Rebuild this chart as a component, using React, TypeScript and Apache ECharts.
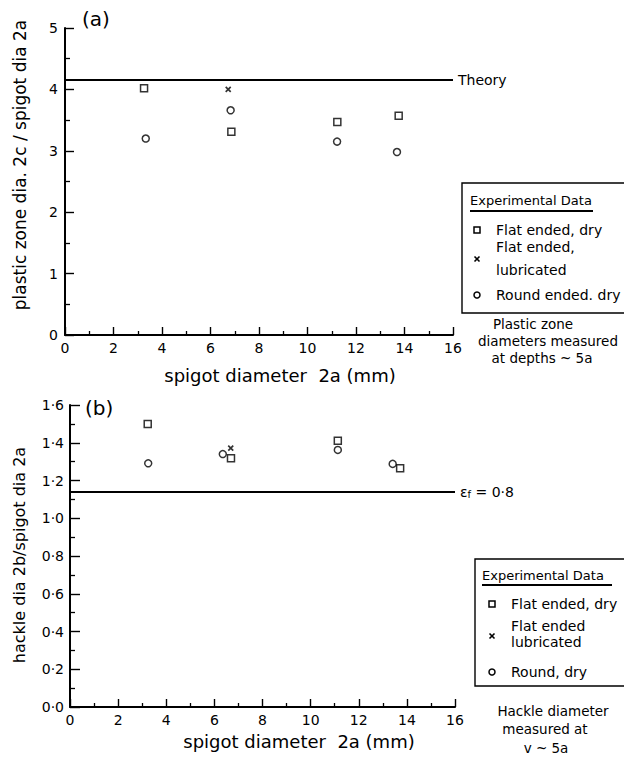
import React, { useEffect, useRef } from "react";
import * as echarts from "echarts";

// ---- Panel (a) data ----
const aFlatDryX = [3.26, 6.86, 11.23, 13.76];
const aFlatDryY = [4.02, 3.31, 3.47, 3.57];
const aFlatLubX = [6.73];
const aFlatLubY = [4.0];
const aRoundDryX = [3.33, 6.83, 11.22, 13.69];
const aRoundDryY = [3.2, 3.66, 3.15, 2.98];
const theoryValue = 4.15;

// ---- Panel (b) data ----
const bFlatDryX = [3.23, 6.69, 11.13, 13.72];
const bFlatDryY = [1.5, 1.318, 1.41, 1.265];
const bFlatLubX = [6.68];
const bFlatLubY = [1.371];
const bRoundDryX = [3.25, 6.35, 11.13, 13.41];
const bRoundDryY = [1.291, 1.34, 1.362, 1.288];
const strainLineValue = 1.144;

const FONT = "DejaVu Sans";
const CROSS = "path://M0,0L10,10M10,0L0,10";

const zip = (xs: number[], ys: number[]) => xs.map((x, i) => [x, ys[i]]);

export default function App() {
  const ref = useRef<HTMLDivElement>(null);
  useEffect(() => {
    if (!ref.current) return;
    const chart = echarts.init(ref.current, null, { renderer: "svg" });

    const axisCommon = {
      axisLine: { show: true, lineStyle: { color: "#000", width: 2 } },
      splitLine: { show: false },
      axisLabel: { color: "#000", fontFamily: FONT, fontSize: 14 },
    };
    const xAxisCfg = (gridIndex: number) => ({
      ...axisCommon,
      type: "value",
      gridIndex,
      min: 0,
      max: 16,
      interval: 2,
      axisTick: { show: true, inside: true, length: 8, lineStyle: { color: "#000", width: 1.4 } },
      minorTick: { show: true, splitNumber: 2, length: 4, lineStyle: { color: "#000", width: 1.3 } },
      axisLabel: { ...axisCommon.axisLabel, margin: 6, showMaxLabel: true },
    });

    const squareStyle = { color: "#fff", borderColor: "#000", borderWidth: 1.5 };
    const circleStyle = { color: "#fff", borderColor: "#000", borderWidth: 1.5 };
    const crossStyle = { color: "none", borderColor: "#000", borderWidth: 1.7 };

    const scatter = (idx: number, data: number[][], symbol: string, size: number, style: any) => ({
      type: "scatter",
      xAxisIndex: idx,
      yAxisIndex: idx,
      symbol,
      symbolSize: size,
      itemStyle: style,
      data,
      z: 3,
    });

    const hLine = (idx: number, value: number, label: any) => ({
      type: "line",
      xAxisIndex: idx,
      yAxisIndex: idx,
      data: [],
      markLine: {
        silent: true,
        symbol: "none",
        lineStyle: { color: "#000", width: 2.2, type: "solid" },
        label: { show: true, position: "end", distance: 5, color: "#000", fontFamily: FONT, fontSize: 14, ...label },
        data: [{ yAxis: value }],
      },
    });

    const txt = (text: string, x: number, y: number, extra: any = {}) => ({
      type: "text",
      x,
      y,
      style: {
        text,
        fill: "#000",
        fontFamily: FONT,
        fontSize: 14,
        align: "left",
        verticalAlign: "middle",
        ...extra,
      },
    });

    const legendGraphic = (
      bx: number, by: number, bw: number, bh: number,
      titleX: number, titleY: number, ulY: number, ulW: number,
      symX: number, textX: number,
      rows: { sym: string; symY: number; lines: { t: string; y: number }[] }[]
    ) => {
      const els: any[] = [
        { type: "rect", shape: { x: bx, y: by, width: bw, height: bh }, style: { fill: "none", stroke: "#000", lineWidth: 1.4 } },
        txt("Experimental Data", titleX, titleY, { fontSize: 13 }),
        { type: "line", shape: { x1: titleX, y1: ulY, x2: titleX + ulW, y2: ulY }, style: { stroke: "#000", lineWidth: 1.8 } },
      ];
      rows.forEach((r) => {
        if (r.sym === "square") {
          els.push({ type: "rect", shape: { x: symX - 3, y: r.symY - 3, width: 6, height: 6 }, style: { fill: "#fff", stroke: "#000", lineWidth: 1.5 } });
        } else if (r.sym === "circle") {
          els.push({ type: "circle", shape: { cx: symX, cy: r.symY, r: 3 }, style: { fill: "#fff", stroke: "#000", lineWidth: 1.5 } });
        } else {
          els.push({ type: "line", shape: { x1: symX - 2.5, y1: r.symY - 2.5, x2: symX + 2.5, y2: r.symY + 2.5 }, style: { stroke: "#000", lineWidth: 1.6 } });
          els.push({ type: "line", shape: { x1: symX + 2.5, y1: r.symY - 2.5, x2: symX - 2.5, y2: r.symY + 2.5 }, style: { stroke: "#000", lineWidth: 1.6 } });
        }
        r.lines.forEach((l) => els.push(txt(l.t, textX, l.y, { fontSize: 14 })));
      });
      return els;
    };

    const option: any = {
      animation: false,
      backgroundColor: "#fff",
      grid: [
        { left: 65, top: 28, width: 388, height: 307 },
        { left: 70, top: 405, width: 385, height: 302 },
      ],
      xAxis: [xAxisCfg(0), xAxisCfg(1)],
      yAxis: [
        {
          ...axisCommon,
          type: "value",
          gridIndex: 0,
          min: 0,
          max: 5,
          interval: 1,
          axisTick: { show: true, inside: true, length: 9, lineStyle: { color: "#000", width: 1.4 } },
          minorTick: { show: true, splitNumber: 2, length: 5, lineStyle: { color: "#000", width: 1.3 } },
          axisLabel: { ...axisCommon.axisLabel, margin: 7 },
        },
        {
          ...axisCommon,
          type: "value",
          gridIndex: 1,
          min: 0,
          max: 1.6,
          interval: 0.2,
          axisTick: { show: true, inside: true, length: 10, lineStyle: { color: "#000", width: 1.4 } },
          minorTick: { show: true, splitNumber: 2, length: 5, lineStyle: { color: "#000", width: 1.3 } },
          axisLabel: {
            ...axisCommon.axisLabel,
            margin: 6,
            formatter: (v: number) => v.toFixed(1).replace(".", "·"),
          },
        },
      ],
      series: [
        hLine(0, theoryValue, { formatter: "Theory" }),
        scatter(0, zip(aFlatDryX, aFlatDryY), "rect", 7, squareStyle),
        scatter(0, zip(aFlatLubX, aFlatLubY), CROSS, 5, crossStyle),
        scatter(0, zip(aRoundDryX, aRoundDryY), "circle", 7, circleStyle),
        hLine(1, strainLineValue, {
          formatter: "{e|ε}{s|f}{e| = 0·8}",
          rich: {
            e: { fontFamily: FONT, fontSize: 14, color: "#000" },
            s: { fontFamily: FONT, fontSize: 10, color: "#000", verticalAlign: "bottom", padding: [6, 0, 0, 0] },
          },
        }),
        scatter(1, zip(bFlatDryX, bFlatDryY), "rect", 7, squareStyle),
        scatter(1, zip(bFlatLubX, bFlatLubY), CROSS, 5, crossStyle),
        scatter(1, zip(bRoundDryX, bRoundDryY), "circle", 7, circleStyle),
      ],
      graphic: [
        txt("(a)", 82, 19, { fontSize: 20 }),
        txt("(b)", 85, 408, { fontSize: 20 }),
        txt("plastic zone dia. 2c / spigot dia 2a", 0, 0, { fontSize: 17, align: "center" }),
        txt("spigot diameter  2a (mm)", 280, 375, { fontSize: 18, align: "center" }),
        txt("hackle dia 2b/spigot dia 2a", 0, 0, { fontSize: 16, align: "center" }),
        txt("spigot diameter  2a (mm)", 299, 741, { fontSize: 18, align: "center" }),
        txt("Plastic zone", 533, 324, { align: "center", fontSize: 13.5 }),
        txt("diameters measured", 548, 341, { align: "center", fontSize: 13.5 }),
        txt("at depths ~ 5a", 542, 358, { align: "center", fontSize: 13.5 }),
        txt("Hackle diameter", 553, 711, { align: "center", fontSize: 13.5 }),
        txt("measured at", 545, 729, { align: "center", fontSize: 13.5 }),
        txt("v ~ 5a", 546, 748, { align: "center", fontSize: 13.5 }),
        ...legendGraphic(462, 183, 170, 130, 470, 200, 211, 123, 477, 496, [
          { sym: "square", symY: 230, lines: [{ t: "Flat ended, dry", y: 230 }] },
          { sym: "cross", symY: 259, lines: [{ t: "Flat ended,", y: 247 }, { t: "lubricated", y: 270 }] },
          { sym: "circle", symY: 295, lines: [{ t: "Round ended. dry", y: 295 }] },
        ]),
        ...legendGraphic(475, 559, 160, 127, 482, 575, 585, 130, 492, 511, [
          { sym: "square", symY: 604, lines: [{ t: "Flat ended, dry", y: 604 }] },
          { sym: "cross", symY: 636, lines: [{ t: "Flat ended", y: 626 }, { t: "lubricated", y: 642 }] },
          { sym: "circle", symY: 672, lines: [{ t: "Round, dry", y: 672 }] },
        ]),
      ],
    };
    // rotate y-axis titles
    option.graphic[2] = { ...option.graphic[2], x: 20, y: 165, rotation: Math.PI / 2 };
    option.graphic[4] = { ...option.graphic[4], x: 19, y: 555, rotation: Math.PI / 2 };

    chart.setOption(option);
    return () => chart.dispose();
  }, []);
  return (
    <div
      ref={ref}
      style={{ position: "fixed", left: 0, top: 0, width: 624, height: 758, background: "#fff" }}
    />
  );
}
